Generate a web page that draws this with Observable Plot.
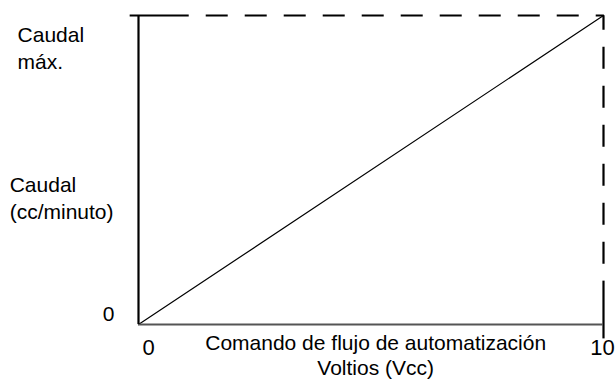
<!DOCTYPE html>
<html>
<head>
<meta charset="utf-8">
<script src="https://cdn.jsdelivr.net/npm/d3@7"></script>
<script src="https://cdn.jsdelivr.net/npm/@observablehq/plot@0.6"></script>
<style>
  html, body { margin: 0; padding: 0; background: #fff; }
  #chart svg { display: block; }
</style>
</head>
<body>
<div id="chart"></div>
<script>
// Voltage command (Vcc) vs. flow (% of max)
const voltage = [0, 10];
const flowPct = [0, 100];
const xTickValues = [0, 10];
const xTickLabels = ["0", "10"];
const yLabelTexts = ["Caudal\nmáx.", "Caudal\n(cc/minuto)", "0"];
const yLabelLevels = [89.9, 41.3, 3.8];
const yLabelX = [-2.6, -2.77, -0.77];
const xTitle = "Comando de flujo de automatización\nVoltios (Vcc)";

// Max-flow limit lines (top and right), in data units
const topSolid = [[-0.19, 100], [1.08, 100]];
const limitDashed = [[1.08, 100], [10, 100], [10, 14.2]];
const rightSolid = [[10, 14.2], [10, -4.5]];

const line = voltage.map((v, i) => ({x: v, y: flowPct[i]}));
const yLabels = yLabelTexts.map((t, i) => ({text: t, y: yLabelLevels[i], x: yLabelX[i]}));
const xTicks = xTickValues.map((v, i) => ({x: v, text: xTickLabels[i]}));

const font = "'Liberation Sans', Arial, Helvetica, sans-serif";

const chart = Plot.plot({
  width: 615,
  height: 379,
  marginLeft: 138,
  marginRight: 12,
  marginTop: 15,
  marginBottom: 55,
  x: {domain: [0, 10], axis: null},
  y: {domain: [0, 100], axis: null},
  style: {fontFamily: font, fontSize: "21px", color: "#000", background: "#fff"},
  marks: [
    Plot.lineY(line, {x: "x", y: "y", stroke: "#000", strokeWidth: 1.2}),
    Plot.line(topSolid, {stroke: "#000", strokeWidth: 2.2, strokeLinecap: "butt"}),
    Plot.line(limitDashed, {stroke: "#000", strokeWidth: 2.2, strokeDasharray: "22,17", strokeDashoffset: 22, strokeLinejoin: "miter", strokeLinecap: "butt"}),
    Plot.line(rightSolid, {stroke: "#000", strokeWidth: 2.2, strokeLinecap: "butt"}),
    Plot.ruleY([0], {x1: 0, x2: 10, stroke: "#555", strokeWidth: 2.2}),
    Plot.ruleX([0], {y1: 0, y2: 100, stroke: "#000", strokeWidth: 2.2}),
    Plot.text(yLabels, {x: "x", y: "y", text: "text", textAnchor: "start", lineHeight: 1.29, fontSize: 21, fill: "#000"}),
    Plot.text(xTicks.slice(0, 1), {x: "x", y: 0, text: "text", dy: 23, dx: 10, fontSize: 22, fill: "#000"}),
    Plot.text(xTicks.slice(1), {x: "x", y: 0, text: "text", dy: 23, dx: -1, fontSize: 22, fill: "#000"}),
    Plot.text([xTitle], {x: 5.1, y: 0, text: (d) => d, lineHeight: 1.2, dy: 30, fontSize: 21, fill: "#000"})
  ]
});
document.getElementById("chart").appendChild(chart);
</script>
</body>
</html>
